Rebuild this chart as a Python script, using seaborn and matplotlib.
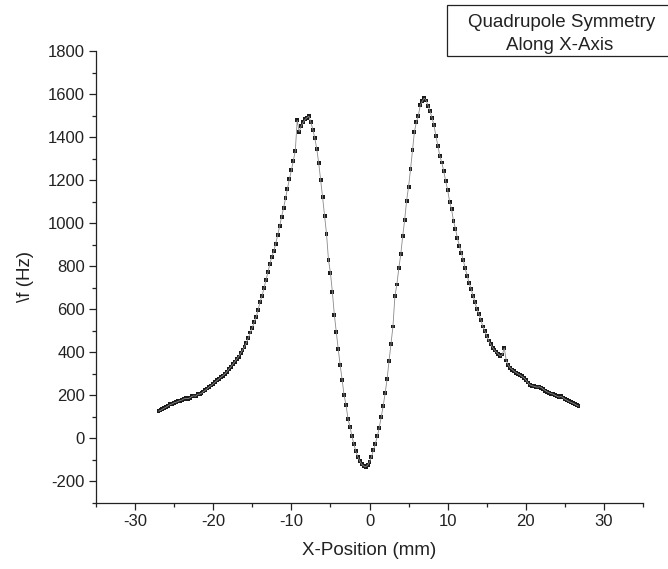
import matplotlib
matplotlib.use("Agg")
import matplotlib.pyplot as plt
from matplotlib.ticker import MultipleLocator
from matplotlib.patches import Rectangle
import seaborn as sns
import pandas as pd

x_pos = [
    -27.0, -26.75, -26.5, -26.25, -26.0, -25.75, -25.5, -25.25, -25.0, -24.75,
    -24.5, -24.25, -24.0, -23.75, -23.5, -23.25, -23.0, -22.75, -22.5, -22.25,
    -22.0, -21.75, -21.5, -21.25, -21.0, -20.75, -20.5, -20.25, -20.0, -19.75,
    -19.5, -19.25, -19.0, -18.75, -18.5, -18.25, -18.0, -17.75, -17.5, -17.25,
    -17.0, -16.75, -16.5, -16.25, -16.0, -15.75, -15.5, -15.25, -15.0, -14.75,
    -14.5, -14.25, -14.0, -13.75, -13.5, -13.25, -13.0, -12.75, -12.5, -12.25,
    -12.0, -11.75, -11.5, -11.25, -11.0, -10.75, -10.5, -10.25, -10.0, -9.75,
    -9.5, -9.25, -9.0, -8.75, -8.5, -8.25, -8.0, -7.75, -7.5, -7.25,
    -7.0, -6.75, -6.5, -6.25, -6.0, -5.75, -5.5, -5.25, -5.0, -4.75,
    -4.5, -4.25, -4.0, -3.75, -3.5, -3.25, -3.0, -2.75, -2.5, -2.25,
    -2.0, -1.75, -1.5, -1.25, -1.0, -0.75, -0.5, -0.25, 0.0, 0.25,
    0.5, 0.75, 1.0, 1.25, 1.5, 1.75, 2.0, 2.25, 2.5, 2.75,
    3.0, 3.25, 3.5, 3.75, 4.0, 4.25, 4.5, 4.75, 5.0, 5.25,
    5.5, 5.75, 6.0, 6.25, 6.5, 6.75, 7.0, 7.25, 7.5, 7.75,
    8.0, 8.25, 8.5, 8.75, 9.0, 9.25, 9.5, 9.75, 10.0, 10.25,
    10.5, 10.75, 11.0, 11.25, 11.5, 11.75, 12.0, 12.25, 12.5, 12.75,
    13.0, 13.25, 13.5, 13.75, 14.0, 14.25, 14.5, 14.75, 15.0, 15.25,
    15.5, 15.75, 16.0, 16.25, 16.5, 16.75, 17.0, 17.25, 17.5, 17.75,
    18.0, 18.25, 18.5, 18.75, 19.0, 19.25, 19.5, 19.75, 20.0, 20.25,
    20.5, 20.75, 21.0, 21.25, 21.5, 21.75, 22.0, 22.25, 22.5, 22.75,
    23.0, 23.25, 23.5, 23.75, 24.0, 24.25, 24.5, 24.75, 25.0, 25.25,
    25.5, 25.75, 26.0, 26.25, 26.5, 26.75,
]

delta_f = [
    127, 130, 136, 141, 146, 152, 158, 160, 166, 168,
    172, 176, 178, 184, 186, 185, 188, 195, 198, 196,
    205, 206, 210, 218, 224, 232, 240, 246, 254, 262,
    270, 277, 285, 292, 300, 310, 322, 332, 344, 356,
    368, 380, 395, 410, 425, 445, 468, 492, 515, 540,
    565, 598, 635, 662, 698, 735, 772, 810, 845, 870,
    905, 945, 985, 1030, 1070, 1115, 1160, 1205, 1245, 1290,
    1335, 1478, 1425, 1450, 1468, 1482, 1490, 1497, 1468, 1435,
    1395, 1345, 1280, 1200, 1120, 1035, 950, 830, 770, 680,
    575, 495, 415, 340, 272, 200, 155, 90, 55, 10,
    -25, -60, -85, -105, -120, -128, -132, -125, -110, -85,
    -55, -25, 10, 50, 100, 150, 210, 275, 360, 440,
    520, 660, 715, 790, 855, 940, 1015, 1105, 1170, 1250,
    1340, 1425, 1470, 1500, 1548, 1566, 1581, 1570, 1545, 1520,
    1490, 1455, 1405, 1360, 1312, 1282, 1242, 1195, 1155, 1100,
    1065, 1010, 975, 930, 895, 862, 828, 790, 755, 722,
    695, 662, 633, 600, 578, 552, 520, 500, 475, 455,
    438, 422, 410, 400, 392, 383, 390, 420, 362, 340,
    328, 320, 312, 306, 300, 295, 288, 282, 272, 260,
    250, 245, 243, 240, 238, 240, 236, 228, 222, 216,
    212, 208, 206, 200, 196, 192, 195, 190, 182, 178,
    172, 168, 164, 160, 154, 150,
]

x_ticks = [-30, -20, -10, 0, 10, 20, 30]
y_ticks = [-200, 0, 200, 400, 600, 800, 1000, 1200, 1400, 1600, 1800]
title_lines = ["Quadrupole Symmetry", "Along X-Axis"]

df = pd.DataFrame({"x": x_pos, "y": delta_f})

sns.set_theme(style="ticks")
plt.rcParams["font.family"] = ["Liberation Sans", "DejaVu Sans"]
plt.rcParams["axes.unicode_minus"] = False

W, H = 668, 569
fig = plt.figure(figsize=(W / 100, H / 100), dpi=100)
ax = fig.add_axes([96 / W, 1 - 503 / H, (643 - 96) / W, (503 - 51) / H])

sns.lineplot(data=df, x="x", y="y", ax=ax, color="#8a8a8a", linewidth=0.6,
             sort=False, estimator=None)
sns.scatterplot(data=df, x="x", y="y", ax=ax, marker="s", s=8, color="#1a1a1a",
                edgecolor="none", linewidth=0)

ax.set_xlim(-35, 35)
ax.set_ylim(-300, 1800)
ax.set_xticks(x_ticks)
ax.set_yticks(y_ticks)
ax.xaxis.set_minor_locator(MultipleLocator(5))
ax.yaxis.set_minor_locator(MultipleLocator(100))
ax.tick_params(axis="both", which="major", direction="out", length=5, width=0.9,
               labelsize=12, colors="#222222", pad=3)
ax.tick_params(axis="both", which="minor", direction="out", length=3, width=0.9,
               colors="#222222")
for s in ["top", "right"]:
    ax.spines[s].set_visible(False)
for s in ["left", "bottom"]:
    ax.spines[s].set_linewidth(0.9)
    ax.spines[s].set_color("#222222")

ax.set_xlabel("X-Position (mm)", fontsize=13.5, color="#222222", labelpad=9)
ax.set_ylabel("\\f (Hz)", fontsize=13.5, color="#222222", labelpad=10)

fig.patches.append(Rectangle((447 / W, 1 - 56 / H), (675 - 447) / W, 51 / H,
                             transform=fig.transFigure, facecolor="white",
                             edgecolor="#222222", linewidth=0.9))
fig.text(562 / W, 1 - 27 / H, title_lines[0], ha="center", va="baseline",
         fontsize=13.5, color="#222222")
fig.text(560 / W, 1 - 50 / H, title_lines[1], ha="center", va="baseline",
         fontsize=13.5, color="#222222")

fig.savefig("out.png", dpi=100)
